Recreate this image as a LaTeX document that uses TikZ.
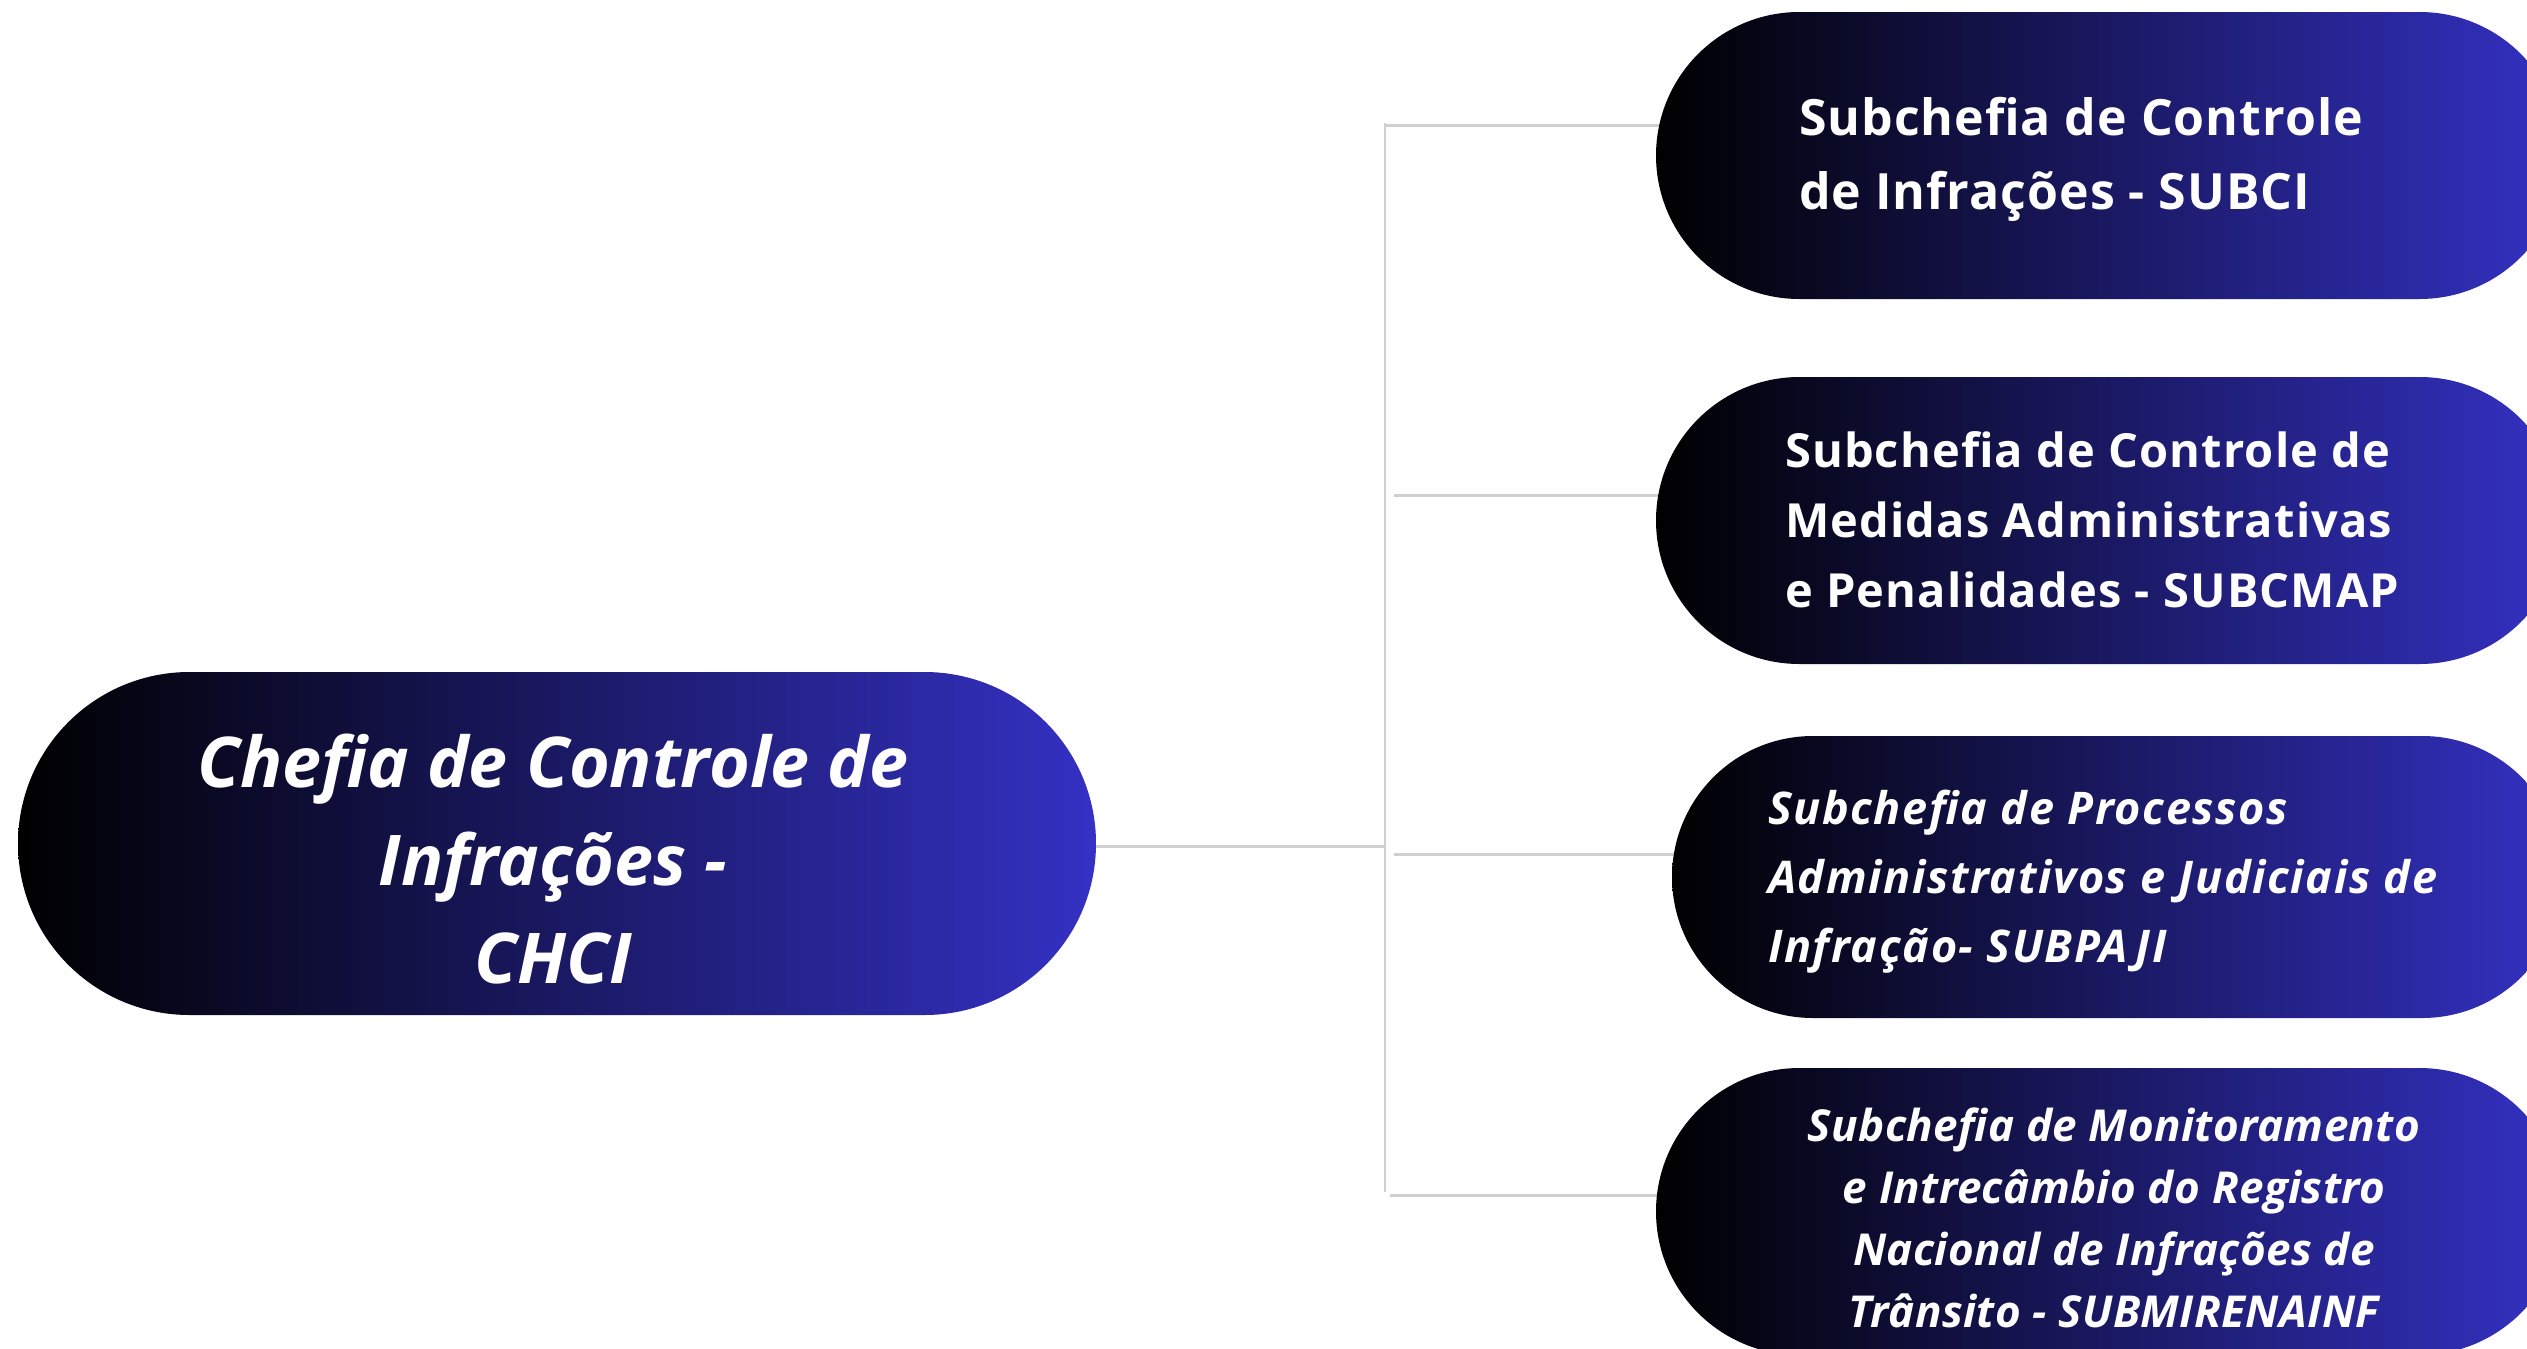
\documentclass[tikz,border=0pt]{standalone}
\usepackage{fontspec}
\setmainfont{Open Sans}
\usetikzlibrary{shapes.misc,backgrounds}
\definecolor{pillblue}{HTML}{3431C4}
\definecolor{linegray}{HTML}{D0D0D0}
\begin{document}
\begin{tikzpicture}[x=1pt,y=-1pt,
  pill/.style={rounded rectangle, rounded rectangle arc length=180, inner sep=0pt, outer sep=0pt,
    left color=black, right color=pillblue, draw=none},
  conn/.style={draw=linegray, line width=3pt},
  vconn/.style={draw=linegray, line width=2pt},
  lbl/.style={text=white, inner sep=0pt, outer sep=0pt}]
\useasboundingbox (0,0) rectangle (2527,1349);
\clip (0,0) rectangle (2527,1349);

% pills
\node[pill, minimum width=1078pt, minimum height=343pt] (chci) at (557,843.5) {};
\node[pill, minimum width=907pt, minimum height=287pt] (p1) at (2109.5,155.5) {};
\node[pill, minimum width=907pt, minimum height=287pt] (p2) at (2109.5,520.5) {};
\node[pill, minimum width=891pt, minimum height=282pt] (p3) at (2117.5,877) {};
\node[pill, minimum width=907pt, minimum height=287pt] (p4) at (2109.5,1211.5) {};

% texts (base anchor = baseline of the last line)
\node[lbl, anchor=base, align=center, font=\fontsize{70}{98}\selectfont\bfseries\itshape] (t0) at (553,983)
  {Chefia de Controle de\\Infrações -\\CHCI};
\node[lbl, anchor=base west, align=left, font=\fontsize{50}{74}\selectfont\bfseries\addfontfeatures{LetterSpace=2}] (t1) at (1799,209)
  {Subchefia de Controle\\de Infrações - SUBCI};
\node[lbl, anchor=base west, align=left, font=\fontsize{47}{70}\selectfont\bfseries\addfontfeatures{LetterSpace=2.4}] (t2) at (1785,607)
  {Subchefia de Controle de\\Medidas Administrativas\\e Penalidades - SUBCMAP};
\node[lbl, anchor=base west, align=left, font=\fontsize{45}{69}\selectfont\bfseries\itshape\addfontfeatures{LetterSpace=3.6}] (t3) at (1768,962)
  {Subchefia de Processos\\Administrativos e Judiciais de\\Infração- SUBPAJI};
\node[lbl, anchor=base, align=center, font=\fontsize{44}{62}\selectfont\bfseries\itshape\addfontfeatures{LetterSpace=0.9}] (t4) at (2114,1327)
  {Subchefia de Monitoramento\\e Intrecâmbio do Registro\\Nacional de Infrações de\\Trânsito - SUBMIRENAINF};

% connectors
\coordinate (j0) at (1385,846);
\coordinate (vtop) at (1385,123);
\coordinate (vbot) at (1385,1192);
\coordinate (j1) at (1386,125);
\coordinate (j2) at (1394,495);
\coordinate (j3) at (1394,854);
\coordinate (j4) at (1390,1195);
\begin{pgfonlayer}{background}
\fill[white] (0,0) rectangle (2527,1349);
\draw[conn] (chci.east |- j0) -- (j0);
\draw[vconn] (vtop) -- (vbot);
\draw[conn] (j1) -- ([xshift=60pt]p1.west |- j1);
\draw[conn] (j2) -- ([xshift=60pt]p2.west |- j2);
\draw[conn] (j3) -- ([xshift=60pt]p3.west |- j3);
\draw[conn] (j4) -- ([xshift=60pt]p4.west |- j4);
\end{pgfonlayer}
\end{tikzpicture}
\end{document}
